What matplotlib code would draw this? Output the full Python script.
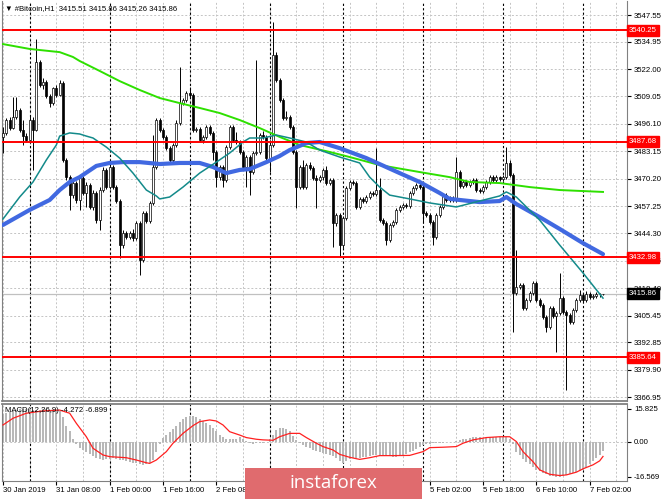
import matplotlib
matplotlib.use('Agg')
import matplotlib.pyplot as plt
import matplotlib.transforms as mtransforms
from matplotlib.patches import Rectangle
import numpy as np

plt.rcParams['font.family'] = ['Liberation Sans', 'DejaVu Sans']

# hourly candles, 30 Jan 16:00 .. 7 Feb 06:00 (bar index 0..180)
opens = [3489.9, 3491.8, 3497.9, 3494.1, 3499.3, 3502.6, 3493.2, 3490.3, 3488.4, 3497.9,
         3493.2, 3525.3, 3514.4, 3515.9, 3509.2, 3505.9, 3513.0, 3509.7, 3515.4, 3479.0,
         3470.9, 3462.4, 3468.1, 3460.1, 3470.5, 3463.4, 3467.2, 3456.8, 3463.4, 3450.6,
         3464.8, 3474.3, 3466.2, 3475.7, 3466.2, 3459.6, 3438.8, 3444.5, 3442.6, 3444.5,
         3442.1, 3449.2, 3431.7, 3453.9, 3450.2, 3458.7, 3475.7, 3497.9, 3493.2, 3489.9,
         3484.6, 3479.0, 3486.1, 3496.5, 3505.9, 3507.4, 3510.7, 3509.7, 3493.2, 3493.6,
         3488.4, 3489.9, 3494.6, 3491.8, 3482.8, 3470.9, 3475.7, 3469.5, 3485.1, 3494.6,
         3488.4, 3487.5, 3482.8, 3475.7, 3480.4, 3473.3, 3482.3, 3482.8, 3490.8, 3489.9,
         3479.9, 3486.1, 3528.6, 3516.8, 3507.4, 3498.9, 3499.3, 3494.6, 3482.8, 3466.2,
         3475.7, 3466.2, 3476.6, 3475.2, 3470.5, 3469.5, 3470.9, 3474.3, 3468.1, 3469.5,
         3449.2, 3453.0, 3438.8, 3451.6, 3465.8, 3468.6, 3468.1, 3456.8, 3460.6, 3459.6,
         3461.5, 3463.4, 3462.9, 3464.8, 3450.6, 3449.2, 3441.2, 3448.3, 3449.7, 3455.4,
         3456.8, 3457.7, 3457.2, 3463.4, 3465.8, 3467.2, 3466.2, 3453.9, 3453.0, 3449.7,
         3442.6, 3453.0, 3456.8, 3462.4, 3460.1, 3461.0, 3460.1, 3473.3, 3466.7, 3468.6,
         3467.2, 3468.6, 3469.5, 3464.8, 3464.3, 3466.2, 3468.6, 3470.9, 3469.5, 3470.9,
         3470.0, 3470.9, 3477.6, 3471.9, 3416.1, 3418.9, 3419.9, 3409.0, 3412.8, 3416.1,
         3420.8, 3412.8, 3410.4, 3404.8, 3400.0, 3409.0, 3405.2, 3406.6, 3413.7, 3407.1,
         3405.7, 3402.4, 3408.0, 3412.8, 3415.2, 3412.8, 3415.6, 3414.2, 3414.7, 3415.6,
         3415.51]
highs = [3494.6, 3498.9, 3499.3, 3508.8, 3508.8, 3503.6, 3497.9, 3491.8, 3499.8, 3499.3,
         3536.2, 3526.3, 3517.8, 3516.8, 3510.2, 3513.5, 3514.4, 3516.8, 3516.3, 3479.9,
         3471.9, 3469.5, 3469.0, 3471.4, 3471.4, 3468.6, 3468.1, 3464.8, 3464.3, 3466.2,
         3475.7, 3475.2, 3479.0, 3476.6, 3467.2, 3460.6, 3445.9, 3445.4, 3445.4, 3446.4,
         3450.2, 3450.2, 3454.9, 3454.9, 3459.6, 3490.8, 3498.9, 3498.9, 3494.1, 3490.8,
         3485.6, 3487.0, 3497.9, 3523.0, 3508.3, 3511.6, 3513.5, 3510.7, 3494.6, 3494.6,
         3490.8, 3495.5, 3495.5, 3492.7, 3483.7, 3476.6, 3476.6, 3486.1, 3495.5, 3495.5,
         3492.2, 3488.4, 3483.7, 3481.3, 3481.3, 3483.2, 3526.3, 3491.8, 3492.7, 3490.8,
         3488.4, 3544.2, 3530.0, 3517.8, 3508.3, 3502.0, 3500.3, 3495.5, 3483.7, 3476.6,
         3479.0, 3477.6, 3478.0, 3476.1, 3471.9, 3471.9, 3475.2, 3476.1, 3470.5, 3470.5,
         3453.9, 3453.9, 3452.5, 3466.7, 3469.5, 3469.5, 3469.0, 3461.5, 3461.5, 3462.4,
         3464.3, 3464.3, 3484.6, 3470.5, 3451.6, 3450.2, 3449.2, 3450.6, 3456.3, 3457.7,
         3458.7, 3458.7, 3464.3, 3466.7, 3468.1, 3468.1, 3467.2, 3454.9, 3453.9, 3450.6,
         3453.9, 3457.7, 3463.4, 3463.4, 3462.0, 3462.0, 3480.4, 3474.3, 3469.5, 3469.5,
         3469.5, 3470.5, 3470.5, 3465.8, 3467.2, 3469.5, 3471.9, 3471.9, 3471.9, 3471.4,
         3471.9, 3485.1, 3479.0, 3472.9, 3436.4, 3420.8, 3420.8, 3413.7, 3417.0, 3421.8,
         3421.8, 3413.7, 3411.4, 3405.7, 3410.0, 3410.0, 3407.6, 3425.6, 3414.7, 3408.0,
         3406.6, 3409.0, 3413.7, 3417.5, 3416.1, 3417.0, 3416.6, 3415.6, 3416.6, 3416.1,
         3415.86]
lows = [3482.3, 3491.0, 3493.2, 3493.6, 3498.4, 3492.2, 3486.1, 3487.5, 3488.0, 3474.3,
        3492.7, 3513.5, 3512.5, 3508.3, 3504.0, 3505.0, 3508.8, 3509.2, 3478.0, 3469.5,
        3455.4, 3461.0, 3458.7, 3455.4, 3462.4, 3456.8, 3455.9, 3455.4, 3449.2, 3445.9,
        3463.9, 3465.3, 3465.3, 3465.3, 3458.7, 3432.6, 3437.4, 3441.6, 3441.6, 3440.7,
        3441.2, 3424.6, 3430.7, 3449.2, 3449.2, 3457.7, 3474.8, 3492.2, 3488.9, 3483.7,
        3478.0, 3477.6, 3485.1, 3495.5, 3504.9, 3506.4, 3508.8, 3492.2, 3492.2, 3487.5,
        3487.0, 3489.0, 3490.8, 3479.0, 3466.2, 3469.5, 3466.2, 3468.6, 3484.2, 3487.5,
        3486.5, 3481.8, 3474.8, 3466.2, 3462.4, 3472.4, 3481.3, 3481.8, 3488.9, 3478.9,
        3473.3, 3485.1, 3515.9, 3506.4, 3497.9, 3497.9, 3493.6, 3481.8, 3456.3, 3465.3,
        3465.3, 3465.3, 3474.3, 3469.5, 3456.3, 3468.6, 3469.5, 3467.2, 3467.2, 3437.9,
        3447.8, 3433.1, 3437.4, 3450.6, 3464.8, 3467.2, 3455.9, 3455.9, 3458.7, 3458.7,
        3460.6, 3462.0, 3462.0, 3449.7, 3448.3, 3438.8, 3440.2, 3447.3, 3448.8, 3454.4,
        3455.9, 3456.3, 3456.3, 3462.4, 3464.8, 3465.3, 3449.2, 3452.0, 3448.8, 3438.8,
        3441.6, 3452.0, 3455.9, 3459.2, 3459.2, 3459.2, 3459.2, 3465.8, 3465.8, 3466.2,
        3466.2, 3467.6, 3463.9, 3463.4, 3463.4, 3465.3, 3467.6, 3468.6, 3468.6, 3469.0,
        3469.0, 3470.0, 3470.9, 3397.7, 3415.2, 3417.9, 3408.0, 3408.0, 3411.8, 3415.2,
        3411.8, 3409.4, 3403.8, 3397.7, 3399.1, 3404.3, 3388.2, 3405.7, 3406.1, 3370.2,
        3401.4, 3401.4, 3407.1, 3411.8, 3411.8, 3411.8, 3413.3, 3413.3, 3413.7, 3414.2,
        3415.26]
closes = [3491.8, 3497.9, 3494.1, 3499.3, 3502.6, 3493.2, 3490.3, 3488.4, 3497.9, 3493.2,
          3525.3, 3514.4, 3515.9, 3509.2, 3505.9, 3513.0, 3509.7, 3515.4, 3479.0, 3470.9,
          3462.4, 3468.1, 3460.1, 3470.5, 3463.4, 3467.2, 3456.8, 3463.4, 3450.6, 3464.8,
          3474.3, 3466.2, 3475.7, 3466.2, 3459.6, 3438.8, 3444.5, 3442.6, 3444.5, 3442.1,
          3449.2, 3431.7, 3453.9, 3450.2, 3458.7, 3475.7, 3497.9, 3493.2, 3489.9, 3484.6,
          3479.0, 3486.1, 3496.5, 3505.9, 3507.4, 3510.7, 3509.7, 3493.2, 3493.6, 3488.4,
          3489.9, 3494.6, 3491.8, 3482.8, 3470.9, 3475.7, 3469.5, 3485.1, 3494.6, 3488.4,
          3487.5, 3482.8, 3475.7, 3480.4, 3473.3, 3482.3, 3482.8, 3490.8, 3489.9, 3479.9,
          3486.1, 3528.6, 3516.8, 3507.4, 3498.9, 3499.3, 3494.6, 3482.8, 3466.2, 3475.7,
          3466.2, 3476.6, 3475.2, 3470.5, 3469.5, 3470.9, 3474.3, 3468.1, 3469.5, 3449.2,
          3453.0, 3438.8, 3451.6, 3465.8, 3468.6, 3468.1, 3456.8, 3460.6, 3459.6, 3461.5,
          3463.4, 3462.9, 3464.8, 3450.6, 3449.2, 3441.2, 3448.3, 3449.7, 3455.4, 3456.8,
          3457.7, 3457.2, 3463.4, 3465.8, 3467.2, 3466.2, 3453.9, 3453.0, 3449.7, 3442.6,
          3453.0, 3456.8, 3462.4, 3460.1, 3461.0, 3460.1, 3473.3, 3466.7, 3468.6, 3467.2,
          3468.6, 3469.5, 3464.8, 3464.3, 3466.2, 3468.6, 3470.9, 3469.5, 3470.9, 3470.0,
          3470.9, 3477.6, 3471.9, 3416.1, 3418.9, 3419.9, 3409.0, 3412.8, 3416.1, 3420.8,
          3412.8, 3410.4, 3404.8, 3400.0, 3409.0, 3405.2, 3406.6, 3413.7, 3407.1, 3405.7,
          3402.4, 3408.0, 3412.8, 3415.2, 3412.8, 3415.6, 3414.2, 3414.7, 3415.6, 3415.5,
          3415.86]

# moving averages (bar index, price)
ma_green_x = [0, 8, 17, 21, 23, 29, 35, 41, 47, 53, 59, 65, 71, 77, 83, 89, 98, 104, 113,
              125, 134, 140, 149, 158, 167, 180]
ma_green_y = [3533.8, 3531.5, 3530.0, 3527.7, 3525.8, 3521.1, 3516.3, 3512.1, 3508.3, 3505.9,
              3503.6, 3501.2, 3497.9, 3494.1, 3489.9, 3486.1, 3482.8, 3480.4, 3476.6, 3473.3,
              3470.9, 3468.6, 3468.1, 3466.2, 3464.8, 3463.9]
ma_blue_x = [0, 8, 14, 17, 20, 23, 28, 32, 36, 41, 47, 53, 59, 63, 67, 71, 74, 79, 83, 86,
             91, 95, 101, 109, 119, 125, 131, 134, 143, 149, 151, 154, 161, 167, 174, 180]
ma_blue_y = [3448.3, 3455.4, 3460.1, 3464.8, 3468.6, 3470.9, 3476.2, 3477.6, 3478.0, 3478.0,
             3477.1, 3477.6, 3477.6, 3475.7, 3472.8, 3474.3, 3474.7, 3478.0, 3480.9, 3483.7,
             3487.0, 3487.5, 3484.6, 3479.9, 3472.8, 3468.6, 3463.4, 3460.6, 3459.1, 3459.6,
             3461.5, 3458.2, 3452.0, 3446.4, 3439.7, 3434.5]
ma_teal_x = [0, 5, 9, 13, 16, 17, 20, 23, 25, 27, 31, 35, 39, 43, 46, 47, 50, 54, 59, 64,
             68, 72, 74, 78, 82, 86, 91, 95, 101, 107, 110, 113, 116, 122, 128, 136, 143,
             149, 151, 154, 161, 167, 174, 180]
ma_teal_y = [3451.1, 3461.5, 3468.6, 3479.0, 3486.1, 3490.3, 3491.8, 3491.3, 3490.3, 3489.4,
             3485.1, 3479.9, 3472.8, 3464.8, 3462.0, 3460.6, 3461.5, 3466.2, 3472.8, 3478.0,
             3482.3, 3487.5, 3489.4, 3489.4, 3490.8, 3489.4, 3487.5, 3483.7, 3480.4, 3477.6,
             3470.9, 3466.2, 3462.4, 3460.6, 3458.7, 3456.8, 3459.6, 3462.0, 3463.9, 3461.5,
             3450.6, 3438.8, 3425.6, 3413.7]

# MACD(12,26,9): main as histogram, signal as line
macd_main = [13.3, 14.0, 14.6, 15.0, 15.2, 15.5, 15.8, 15.8, 15.6, 15.3,
             15.2, 15.4, 15.6, 15.5, 15.3, 15.1, 15.0, 14.6, 11.7, 7.5,
             5.0, 1.4, -1.2, -2.8, -3.8, -4.9, -5.8, -6.7, -7.4, -8.2,
             -8.6, -8.3, -8.0, -7.8, -8.2, -8.6, -8.8, -9.2, -9.4, -9.8,
             -10.2, -10.6, -11.0, -10.6, -10.2, -8.5, -5.0, -0.8, 2.0, 3.5,
             4.9, 6.0, 7.5, 9.7, 11.0, 12.0, 12.5, 12.3, 12.0, 11.0,
             10.0, 9.0, 8.0, 6.5, 5.0, 3.5, 2.3, 1.5, 1.6, 1.6,
             1.6, 2.5, 1.6, 0.5, -0.6, -0.8, -0.7, -0.6, -0.4, 0.2,
             1.6, 3.5, 5.5, 6.5, 6.7, 6.0, 5.0, 3.0, 1.0, -0.6,
             -1.4, -2.2, -3.0, -3.6, -4.2, -4.6, -5.2, -5.6, -6.0, -6.8,
             -7.8, -9.0, -10.2, -9.2, -8.3, -7.8, -7.6, -7.4, -7.2, -7.0,
             -6.6, -6.4, -6.2, -6.2, -6.4, -6.6, -6.8, -7.0, -7.0, -6.6,
             -6.0, -5.6, -5.0, -4.2, -3.4, -2.6, -1.4, -1.0, -0.8, -0.6,
             -0.5, -0.4, -0.3, -0.2, -0.2, 0.0, 0.4, 0.8, 1.2, 1.6,
             2.0, 2.4, 2.5, 2.3, 2.0, 2.1, 2.3, 2.4, 2.5, 2.5,
             2.4, 2.2, 1.6, -1.0, -4.6, -6.2, -8.0, -9.4, -10.6, -11.8,
             -13.3, -14.0, -14.9, -15.4, -16.0, -16.4, -16.5, -16.5, -16.0, -15.9,
             -15.3, -14.9, -14.5, -13.8, -13.3, -12.5, -10.6, -9.2, -7.6, -6.0,
             -4.272]
signal_x = [0, 3, 7, 12, 17, 20, 22, 25, 27, 30, 32, 35, 37, 40, 43, 44, 46, 49, 51, 54,
            57, 59, 62, 64, 66, 68, 71, 73, 76, 78, 81, 83, 86, 89, 91, 94, 96, 99, 101, 104,
            107, 110, 113, 117, 122, 126, 128, 132, 136, 138, 141, 145, 149, 152, 154, 156,
            159, 161, 164, 167, 169, 172, 174, 177, 179, 180]
signal_y = [8.1, 11.3, 13.7, 14.8, 15.2, 13.7, 8.9, 2.5, -3.0, -6.2, -7.0, -7.3, -7.5, -8.6,
            -9.9, -10.2, -8.6, -4.6, -0.6, 4.1, 7.8, 9.7, 10.5, 10.0, 8.1, 4.9, 3.3, 2.1, 1.3,
            1.0, 0.8, 2.5, 4.1, 4.1, 2.1, -0.6, -2.2, -3.8, -5.9, -7.3, -8.3, -7.5, -6.5, -6.5,
            -6.4, -4.6, -2.7, -2.5, -2.2, -0.6, 1.0, 2.1, 2.5, 2.5, 0.2, -4.6, -9.4, -13.3,
            -15.4, -16.0, -15.7, -14.4, -12.8, -10.9, -9.0, -6.899]

levels = [3540.25, 3487.68, 3432.98, 3385.64]
bid = 3415.86
price_ticks = [3547.55, 3534.95, 3522.00, 3509.05, 3496.10, 3483.15, 3470.20, 3457.25,
               3444.30, 3431.35, 3418.40, 3405.45, 3392.85, 3379.90, 3366.95]
day_breaks = [8, 32, 56, 80, 102, 126, 150, 174]
time_ticks = [0, 16, 32, 48, 64, 80, 96, 112, 128, 144, 160, 176]
# labels at 80, 96, 112 sit under the badge in the original
time_labels = ['30 Jan 2019', '31 Jan 08:00', '1 Feb 00:00', '1 Feb 16:00', '2 Feb 08:00',
               '', '', '', '5 Feb 02:00', '5 Feb 18:00', '6 Feb 10:00', '7 Feb 02:00']

W, H = 665, 499
fig = plt.figure(figsize=(W / 100, H / 100), dpi=100)


def box(l, t, r, b):
    return [l / W, 1 - b / H, (r - l) / W, (b - t) / H]


ax = fig.add_axes(box(2, 1, 627, 401))
ax2 = fig.add_axes(box(2, 404, 627, 481))
fs = 5.6
grid_kw = dict(color='#c4c4c4', lw=0.7, dashes=(2, 2), zorder=0)
sep_kw = dict(color='black', lw=0.8, dashes=(2, 2), zorder=1)

for a in (ax, ax2):
    a.set_xlim(-0.3, 187.2)
    for s in a.spines.values():
        s.set_color('#808080')
    a.spines['top'].set_visible(a is ax2)
    for g in range(0, 188, 8):
        a.axvline(g, **grid_kw)
    for d in day_breaks:
        a.axvline(d, **sep_kw)
    a.yaxis.tick_right()
    a.tick_params(axis='y', length=3, pad=2, labelsize=fs, colors='black')
ax.spines['bottom'].set_linewidth(1.3)
ax2.spines['top'].set_linewidth(1.3)

# main price panel
ax.set_ylim(3365.06, 3554.17)
ax.set_yticks(price_ticks)
ax.set_yticklabels(['%.2f' % p for p in price_ticks])
ax.tick_params(axis='x', length=0, labelbottom=False)
for p in price_ticks:
    ax.axhline(p, **grid_kw)
ax.axhline(bid, color='#c0c0c0', lw=0.9, zorder=1)

o = np.array(opens)
c = np.array(closes)
idx = np.arange(len(o))
up = c >= o
ax.vlines(idx, lows, highs, color='black', lw=0.7, zorder=2)
ax.bar(idx, np.maximum(np.abs(c - o), 0.35), bottom=np.minimum(o, c), width=0.62,
       color=np.where(up, 'white', 'black'), edgecolor='black', linewidth=0.5, zorder=3)

ax.plot(ma_green_x, ma_green_y, color='#2ee000', lw=1.4, zorder=4)
ax.plot(ma_blue_x, ma_blue_y, color='#4169e1', lw=3.0, zorder=5,
        solid_capstyle='round', solid_joinstyle='round')
ax.plot(ma_teal_x, ma_teal_y, color='#138a8a', lw=1.1, zorder=6)

trans = mtransforms.blended_transform_factory(ax.transAxes, ax.transData)
for lv in levels:
    ax.axhline(lv, color='#ff0000', lw=1.4, zorder=7)
    ax.text(1.003, lv, '%.2f' % lv, transform=trans, ha='left', va='center', fontsize=fs,
            color='white', clip_on=False, zorder=10,
            bbox=dict(boxstyle='square,pad=0.25', fc='#ff0000', ec='#ff0000'))
ax.text(1.003, bid, '%.2f' % bid, transform=trans, ha='left', va='center', fontsize=fs,
        color='white', clip_on=False, zorder=10,
        bbox=dict(boxstyle='square,pad=0.25', fc='black', ec='black'))

# MACD panel
ax2.set_ylim(-18.6, 18.1)
ax2.axhline(0, **grid_kw)
ax2.bar(idx, macd_main, width=0.6, color='#b8b8b8', zorder=2)
ax2.plot(signal_x, signal_y, color='#ff2020', lw=0.9, zorder=3)
ax2.set_yticks([15.825, 0, -16.569])
ax2.set_yticklabels(['15.825', '0.00', '-16.569'])
ax2.set_xticks(time_ticks)
ax2.set_xticklabels(time_labels, ha='left')
ax2.tick_params(axis='x', length=3, pad=1.5, labelsize=fs, colors='black')

fig.text(5 / W, 1 - 9 / H, '\u25bc #Bitcoin,H1  3415.51 3415.86 3415.26 3415.86',
         fontsize=fs, va='center', ha='left')
fig.text(5 / W, 1 - 410 / H, 'MACD(12,26,9) -4.272 -6.899', fontsize=fs,
         va='center', ha='left')

# instaforex badge
fig.patches.append(Rectangle((245 / W, 0), (422 - 245) / W, (H - 468) / H,
                             transform=fig.transFigure, fc='#e06b6e', ec='none', zorder=20))
fig.text(333 / W, 1 - 483 / H, 'instaforex', fontsize=13.5, color='white',
         family=['Open Sans', 'DejaVu Sans'], ha='center', va='center', zorder=21)

fig.savefig('out.png', dpi=100)
